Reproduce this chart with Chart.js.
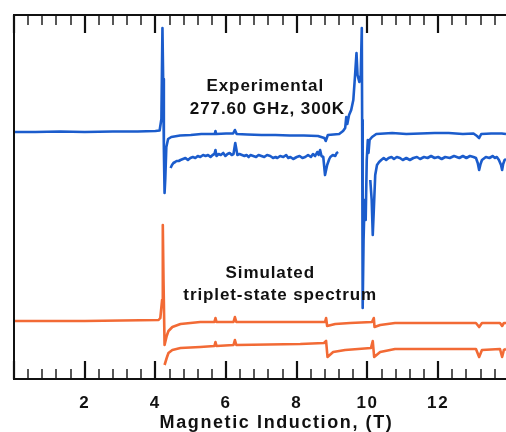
<!DOCTYPE html>
<html>
<head>
<meta charset="utf-8">
<script src="https://cdn.jsdelivr.net/npm/chart.js@4/dist/chart.umd.min.js"></script>
<style>
  html, body { margin: 0; padding: 0; background: #fff; }
  #wrap { width: 506px; height: 432px; position: relative; }
</style>
</head>
<body>
<div id="wrap"><canvas id="c" width="506" height="432"></canvas></div>
<script>
// ---- Data (field in T, intensity in arbitrary units) ----
const expMainField = [0, 0.6, 1.3, 2.0, 2.8, 3.5, 4.0, 4.12, 4.17, 4.20, 4.22, 4.24, 4.26, 4.28, 4.31, 4.36, 4.45, 4.7, 5.0, 5.3, 5.68, 5.70, 5.72, 6.0, 6.2, 6.25, 6.3, 6.6, 7.0, 7.4, 7.8, 8.2, 8.6, 8.78, 8.82, 8.88, 9.2, 9.31, 9.37, 9.40, 9.43, 9.48, 9.54, 9.60, 9.65, 9.69, 9.72, 9.77, 9.81, 9.84, 9.85, 9.865, 9.89, 9.92, 9.95, 9.98, 10.01, 10.03, 10.06, 10.13, 10.25, 10.7, 11.1, 11.5, 11.9, 12.3, 12.7, 13.0, 13.1, 13.16, 13.22, 13.5, 13.8, 13.92];
const expMainInt   = [247, 247, 247.5, 247, 247.5, 247.5, 248, 248.5, 260, 351, 300, 230, 186, 200, 232, 240, 242, 243.5, 244, 245, 245, 248, 245, 245.5, 245.5, 249, 245, 244.5, 244, 244, 243.5, 243.5, 243, 241, 238, 244, 245, 248, 251, 262, 255, 264, 269, 279, 304, 326, 304, 297, 304, 351, 259, 71, 139, 179, 159, 219, 239, 226, 239, 242, 245, 246, 245, 245.5, 246, 246, 245, 245.5, 243, 241, 245, 245.5, 245.5, 245];

const expZoomAField = [4.43, 4.47, 4.51, 4.56, 4.60, 4.66, 4.71, 4.78, 4.85, 4.92, 4.99, 5.06, 5.13, 5.20, 5.27, 5.35, 5.42, 5.49, 5.56, 5.62, 5.67, 5.70, 5.73, 5.79, 5.85, 5.92, 5.98, 6.04, 6.10, 6.16, 6.21, 6.26, 6.32, 6.38, 6.45, 6.52, 6.58, 6.64, 6.69, 6.77, 6.85, 6.92, 7.0, 7.08, 7.16, 7.25, 7.33, 7.40, 7.45, 7.53, 7.62, 7.70, 7.76, 7.82, 7.90, 8.0, 8.08, 8.16, 8.24, 8.32, 8.40, 8.46, 8.52, 8.58, 8.62, 8.66, 8.70, 8.75, 8.80, 8.86, 8.92, 8.95, 9.02, 9.09, 9.13, 9.17];
const expZoomAInt   = [211, 214, 216, 217, 218, 218, 219, 220, 221, 219, 221, 222, 221, 223, 222, 224, 223, 224, 222, 224, 225, 229, 223, 225, 224, 226, 223, 225, 226, 224, 225, 236, 224, 225, 224, 223, 224, 222, 224, 223, 222, 224, 223, 222, 224, 223, 221, 222, 221, 223, 222, 224, 221, 222, 220, 222, 223, 221, 222, 224, 222, 225, 223, 227, 224, 229, 223, 222, 204, 214, 220, 222, 224, 223, 226, 227];

const expZoomBField = [10.08, 10.12, 10.15, 10.18, 10.22, 10.27, 10.33, 10.39, 10.46, 10.53, 10.6, 10.68, 10.75, 10.83, 10.92, 11.0, 11.1, 11.2, 11.3, 11.4, 11.49, 11.6, 11.7, 11.8, 11.9, 12.0, 12.1, 12.2, 12.33, 12.45, 12.6, 12.7, 12.8, 12.9, 13.0, 13.07, 13.12, 13.16, 13.2, 13.24, 13.35, 13.45, 13.55, 13.6, 13.66, 13.72, 13.78, 13.81, 13.84, 13.88, 13.92];
const expZoomBInt   = [199, 179, 144, 169, 204, 214, 217, 219, 221, 219, 221, 222, 220, 222, 221, 219, 221, 219, 221, 222, 220, 222, 221, 223, 221, 222, 220, 222, 221, 223, 221, 223, 221, 223, 222, 221, 216, 209, 215, 219, 222, 221, 223, 221, 222, 219, 214, 209, 215, 219, 220];

const simMainField = [0, 2.0, 4.09, 4.14, 4.19, 4.21, 4.23, 4.26, 4.32, 4.37, 4.48, 4.71, 5.27, 5.67, 5.70, 5.73, 6.21, 6.25, 6.29, 8.10, 8.80, 8.83, 8.86, 9.09, 9.51, 10.13, 10.18, 10.20, 10.36, 10.78, 13.07, 13.16, 13.24, 13.75, 13.81, 13.86, 13.92];
const simMainInt   = [58, 58, 59, 61, 79, 154, 99, 34, 43, 48, 52, 55, 57, 57, 61, 57, 57, 62, 57, 57, 57, 61, 53, 55, 56, 57, 61, 52, 54, 56, 56, 52, 56, 56, 53, 56, 56];

const simZoomField = [4.26, 4.32, 4.37, 4.48, 4.71, 5.27, 5.67, 5.70, 5.73, 6.21, 6.25, 6.29, 8.10, 8.77, 8.83, 8.87, 9.03, 9.37, 10.10, 10.15, 10.19, 10.36, 10.78, 13.07, 13.16, 13.24, 13.75, 13.81, 13.86, 13.92];
const simZoomInt   = [14, 21, 26, 29, 31, 32, 33, 37, 33, 34, 39, 34, 35, 36, 38, 22, 27, 29, 31, 38, 22, 27, 30, 30, 22, 29, 30, 22, 29, 30];

const majorTicks = [0, 2, 4, 6, 8, 10, 12];
const minorStep = 0.4;
const fieldMin = 0, fieldMax = 13.92;

const labelTexts  = ["Experimental", "277.60 GHz, 300K", "Simulated", "triplet-state spectrum"];
const labelFields = [7.11, 7.17, 7.25, 7.53];
const labelInts   = [293, 270, 106, 84];
const axisTitle = "Magnetic Induction, (T)";

// ---- Build ----
const BLUE = '#1b5ccc';
const ORANGE = '#f26a35';
const FONT = '"Liberation Sans", Arial, sans-serif';

function pts(xs, ys) { return xs.map((x, i) => ({ x: x, y: ys[i] })); }
function ds(xs, ys, color) {
  return { data: pts(xs, ys), borderColor: color, borderWidth: 2.6, pointRadius: 0,
           showLine: true, fill: false, tension: 0, borderJoinStyle: 'round' };
}

const spacingPlugin = {
  id: 'spacing',
  beforeDraw(chart) { chart.ctx.letterSpacing = '1.6px'; },
  afterDraw(chart) { chart.ctx.letterSpacing = '0px'; }
};

const framePlugin = {
  id: 'frame',
  afterDatasetsDraw(chart) {
    const { ctx, chartArea: a, scales } = chart;
    const xs = scales.x, ys = scales.y;
    ctx.save();
    ctx.strokeStyle = '#111';
    ctx.lineWidth = 2;
    ctx.beginPath();
    ctx.moveTo(a.right + 2, a.top);
    ctx.lineTo(a.left, a.top);
    ctx.lineTo(a.left, a.bottom);
    ctx.lineTo(a.right + 2, a.bottom);
    ctx.stroke();
    // ticks (inward)
    const n = Math.floor((fieldMax - fieldMin) / minorStep + 1e-6);
    for (let i = 0; i <= n; i++) {
      const v = fieldMin + i * minorStep;
      const isMajor = majorTicks.some(m => Math.abs(m - v) < 1e-6);
      const px = Math.round(xs.getPixelForValue(v));
      const len = isMajor ? 18 : 10;
      ctx.lineWidth = isMajor ? 2.2 : 1.4;
      ctx.beginPath();
      ctx.moveTo(px, a.top); ctx.lineTo(px, a.top + len);
      ctx.moveTo(px, a.bottom); ctx.lineTo(px, a.bottom - len);
      ctx.stroke();
    }
    // text labels
    ctx.fillStyle = '#111';
    ctx.font = 'bold 17px ' + FONT;
    ctx.letterSpacing = '0.9px';
    ctx.textAlign = 'center';
    ctx.textBaseline = 'middle';
    labelTexts.forEach((t, i) => {
      ctx.fillText(t, xs.getPixelForValue(labelFields[i]), ys.getPixelForValue(labelInts[i]));
    });
    ctx.restore();
  }
};

new Chart(document.getElementById('c'), {
  type: 'scatter',
  data: {
    datasets: [
      ds(expMainField, expMainInt, BLUE),
      ds(expZoomAField, expZoomAInt, BLUE),
      ds(expZoomBField, expZoomBInt, BLUE),
      ds(simMainField, simMainInt, ORANGE),
      ds(simZoomField, simZoomInt, ORANGE)
    ]
  },
  options: {
    responsive: false,
    animation: false,
    layout: { padding: { left: 13, top: 15, right: 0, bottom: 0 } },
    plugins: { legend: { display: false }, tooltip: { enabled: false } },
    scales: {
      x: {
        type: 'linear', min: fieldMin, max: fieldMax,
        grid: { display: false, drawTicks: false, tickLength: 0 },
        border: { display: false },
        ticks: {
          stepSize: 2, includeBounds: false, padding: 14, color: '#111',
          font: { family: FONT, size: 17, weight: 'bold' },
          callback: v => (v === 0 ? '' : String(v))
        },
        title: {
          display: true, text: '\u00A0\u00A0\u00A0\u00A0\u00A0' + axisTitle, color: '#111',
          font: { family: FONT, size: 18, weight: 'bold' },
          padding: { top: -15.5, bottom: -1.5 }
        }
      },
      y: { type: 'linear', min: 0, max: 364, display: false }
    }
  },
  plugins: [spacingPlugin, framePlugin]
});
</script>
</body>
</html>
